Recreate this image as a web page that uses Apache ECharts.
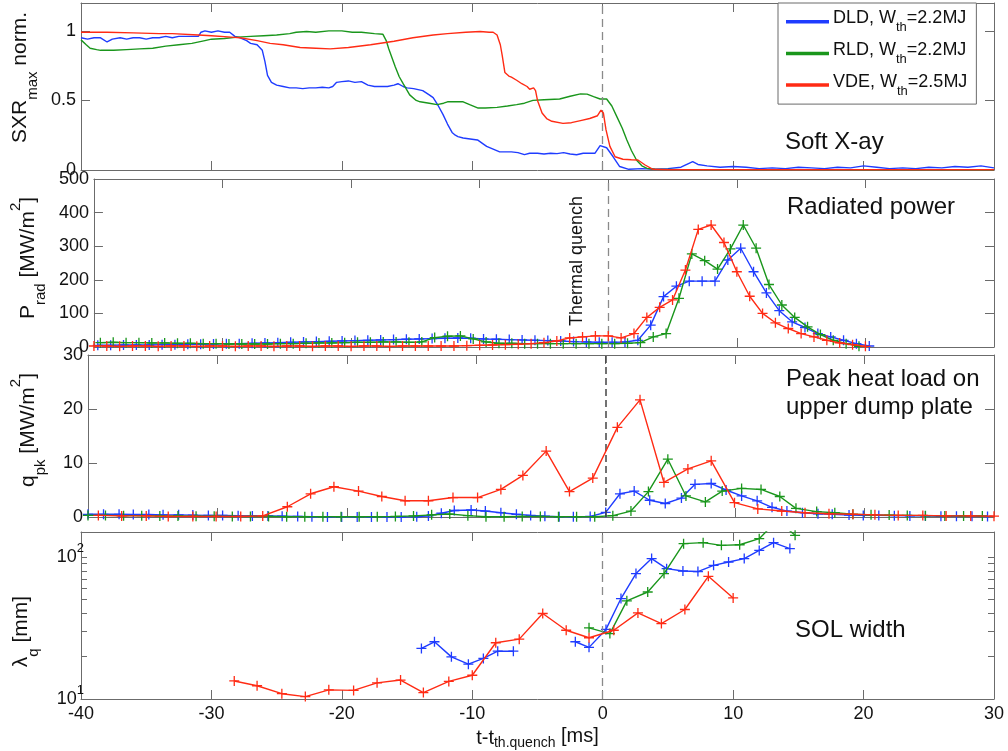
<!DOCTYPE html>
<html>
<head>
<meta charset="utf-8">
<title>Disruption time traces</title>
<script src="https://cdn.jsdelivr.net/npm/echarts@6/dist/echarts.min.js"></script>
<style>
html, body { margin: 0; padding: 0; background: #fff; }
#main { width: 1008px; height: 751px; }
</style>
</head>
<body>
<div id="main"></div>
<script>
// series names / colours / stored energy in the legend
var names = ['DLD', 'RLD', 'VDE'];
var energies = ['2.2', '2.2', '2.5'];
var colors = ['#1f3cff', '#1a961c', '#ff2b14'];

// axis ticks
var xMin = -40, xMax = 30;
var sxrTicks = [0, 0.5, 1];
var logLabels = [10, 100];
var logTicks = [10, 20, 30, 40, 50, 60, 70, 80, 90, 100];

// panel 1: soft X-ray, normalised  [t (ms), value]
var sxrDLD = [[-40,0.95],[-39.5,0.94],[-39,0.95],[-38.5,0.95],[-38,0.92],[-37.6,0.94],[-37,0.95],[-36.5,0.94],[-36,0.95],[-35.5,0.95],[-35,0.94],[-34.5,0.95],[-34,0.95],[-33.5,0.96],[-33,0.95],[-32.5,0.96],[-32,0.96],[-31.5,0.96],[-31,0.96],[-30.8,0.99],[-30.5,1.0],[-30,0.99],[-29.5,1.0],[-29,0.99],[-28.6,0.99],[-28.2,0.96],[-27.8,0.95],[-27.3,0.93],[-27,0.91],[-26.5,0.9],[-26.1,0.86],[-25.9,0.78],[-25.7,0.68],[-25.4,0.63],[-25,0.61],[-24.5,0.6],[-24,0.59],[-23.5,0.59],[-23,0.585],[-22.5,0.59],[-22,0.59],[-21.5,0.595],[-21,0.59],[-20.7,0.6],[-20.4,0.63],[-20,0.635],[-19.5,0.64],[-19,0.63],[-18.5,0.635],[-18,0.61],[-17.5,0.6],[-17,0.6],[-16.5,0.6],[-16,0.61],[-15.7,0.62],[-15.3,0.6],[-15,0.59],[-14.5,0.585],[-13.8,0.57],[-13.3,0.54],[-13,0.52],[-12.6,0.46],[-12.25,0.4],[-11.9,0.33],[-11.55,0.27],[-11.3,0.25],[-11.1,0.24],[-10.7,0.23],[-10.3,0.225],[-9.6,0.216],[-9.2,0.19],[-8.9,0.17],[-8.4,0.15],[-7.9,0.13],[-7,0.13],[-6.5,0.125],[-6,0.11],[-5.6,0.12],[-5,0.12],[-4.5,0.115],[-4,0.12],[-3.5,0.118],[-3,0.125],[-2.5,0.115],[-2,0.11],[-1.5,0.12],[-1,0.12],[-0.6,0.12],[-0.2,0.175],[0.3,0.16],[0.8,0.095],[1.3,0.025],[2,0.005],[3,0.01],[4,0.005],[5,0.01],[6,0.02],[6.9,0.06],[7.3,0.04],[8,0.03],[9,0.02],[10,0.025],[11,0.02],[12,0.01],[13,0.015],[14,0.01],[15,0.02],[16,0.015],[17,0.01],[18,0.02],[19,0.015],[20,0.03],[21,0.02],[22,0.01],[23,0.015],[24,0.01],[25,0.02],[26,0.015],[27,0.025],[28,0.02],[29,0.03],[30,0.015]];
var sxrRLD = [[-40,0.935],[-39.6,0.9],[-39.3,0.875],[-38.8,0.865],[-38.5,0.86],[-37.5,0.86],[-36.5,0.865],[-35.5,0.87],[-34.5,0.875],[-33.5,0.89],[-32.5,0.9],[-31.5,0.91],[-30.5,0.93],[-30,0.94],[-29,0.945],[-28,0.955],[-27,0.96],[-26,0.965],[-25,0.97],[-24,0.98],[-23.5,0.99],[-22.7,0.995],[-22,0.99],[-21,1.0],[-20,1.0],[-19.2,0.99],[-18.5,0.99],[-17.5,0.98],[-16.85,0.975],[-16.6,0.93],[-16.4,0.87],[-15.9,0.74],[-15.6,0.67],[-15.3,0.62],[-14.8,0.54],[-14.3,0.5],[-14,0.49],[-13.3,0.48],[-12.7,0.47],[-12.2,0.48],[-11.9,0.49],[-11.2,0.49],[-10.7,0.49],[-10.2,0.47],[-9.55,0.445],[-9,0.445],[-8.1,0.45],[-7.3,0.46],[-6.6,0.47],[-6,0.48],[-5.35,0.5],[-4.5,0.505],[-3.3,0.51],[-2.5,0.53],[-1.7,0.547],[-1.2,0.545],[-0.7,0.527],[-0.2,0.51],[0.3,0.51],[0.7,0.46],[1.1,0.38],[1.5,0.3],[1.85,0.216],[2.2,0.14],[2.6,0.07],[3,0.03],[3.4,0.012],[4,0.005],[6,0.003],[10,0.002],[15,0.003],[20,0.002],[25,0.002],[30,0.002]];
var sxrVDE = [[-40,0.99],[-38,0.99],[-36,0.985],[-34,0.98],[-33,0.98],[-31,0.97],[-30,0.965],[-28.5,0.955],[-27.8,0.95],[-26.5,0.93],[-25.5,0.91],[-24.5,0.9],[-23.2,0.88],[-22,0.875],[-20.9,0.87],[-19.5,0.88],[-17.8,0.9],[-16,0.925],[-14.55,0.95],[-13,0.97],[-11.9,0.98],[-10.5,0.99],[-9.4,0.995],[-8.7,0.99],[-8.4,0.99],[-8.1,0.97],[-7.85,0.9],[-7.7,0.82],[-7.5,0.7],[-7.2,0.675],[-7,0.667],[-6.6,0.645],[-6.2,0.62],[-5.8,0.6],[-5.6,0.58],[-5.3,0.59],[-5.15,0.57],[-5,0.5],[-4.65,0.41],[-4.3,0.37],[-3.9,0.35],[-3.05,0.335],[-2.4,0.34],[-1.7,0.355],[-1,0.37],[-0.4,0.39],[-0.13,0.43],[0.05,0.41],[0.25,0.29],[0.55,0.17],[0.95,0.095],[1.55,0.077],[2.2,0.074],[2.7,0.072],[3.25,0.036],[3.85,0.005],[5,0.002],[10,0.002],[20,0.002],[30,0.002]];

// panel 2: radiated power [MW/m2]
var pradDLD = [[-39.7,5],[-38.7,5],[-37.7,6],[-36.7,6],[-35.7,6],[-34.7,7],[-33.7,7],[-32.7,8],[-31.7,8],[-30.7,9],[-29.7,10],[-28.7,10],[-27.7,11],[-26.7,12],[-25.7,13],[-24.7,14],[-23.7,15],[-22.7,16],[-21.7,17],[-20.7,18],[-19.7,19],[-18.7,20],[-17.7,21],[-16.7,22],[-15.7,23],[-14.7,24],[-13.7,25],[-12.7,26],[-11.7,27],[-10.7,26],[-9.7,24],[-8.7,23],[-7.7,22],[-6.7,21],[-5.7,20],[-4.7,19],[-3.7,18],[-2.7,16],[-1.7,15],[-0.7,14],[0.3,14],[1.3,15],[2.3,20],[3.3,65],[4.3,150],[5.3,181],[6.3,196],[7.3,196],[8.3,196],[9.3,259],[10.3,294],[11.3,224],[12.3,161],[13.3,108],[14.3,75],[15.3,58],[16.3,40],[17.3,30],[18.3,20],[19.3,10],[20.3,3]];
var pradRLD = [[-39.5,13],[-38.5,14],[-37.5,13],[-36.5,13],[-35.5,12],[-34.5,12],[-33.5,11],[-32.5,11],[-31.5,10],[-30.5,10],[-29.5,9],[-28.5,9],[-27.5,9],[-26.5,9],[-25.5,10],[-24.5,10],[-23.5,11],[-22.5,12],[-21.5,12],[-20.5,13],[-19.5,14],[-18.5,14],[-17.5,15],[-16.5,15],[-15.5,14],[-14.5,15],[-13.5,28],[-12.5,32],[-11.5,33],[-10.5,24],[-9.5,15],[-8.5,11],[-7.5,11],[-6.5,10],[-5.5,10],[-4.5,10],[-3.5,10],[-2.5,10],[-1.5,10],[-0.5,10],[0.5,10],[1.5,11],[2.5,13],[3.5,30],[4.5,40],[5.5,145],[6.5,277],[7.5,257],[8.5,232],[9.5,292],[10.5,363],[11.5,294],[12.5,186],[13.5,125],[14.5,88],[15.5,60],[16.5,37],[17.5,20],[18.5,10],[19.5,2]];
var pradVDE = [[-40,3],[-39,3],[-38,2],[-37,3],[-36,3],[-35,2],[-34,3],[-33,3],[-32,2],[-31,3],[-30,3],[-29,2],[-28,3],[-27,3],[-26,2],[-25,3],[-24,3],[-23,2],[-22,3],[-21,3],[-20,2],[-19,3],[-18,3],[-17,2],[-16,3],[-15,3],[-14,3],[-13,3],[-12,3],[-11,4],[-10,5],[-9,6],[-8,7],[-7,8],[-6,10],[-5,13],[-4,18],[-3,27],[-2,30],[-1,33],[0,33],[1,27],[2,40],[3,88],[4,118],[5,140],[6,229],[7,350],[8,363],[9,311],[10,224],[11,151],[12,100],[13,72],[14,55],[15,40],[16,30],[17,20],[18,12],[19,7],[20,2]];

// panel 3: peak heat load on the upper dump plate [MW/m2]
var qpkDLD = [[-40,0.5],[-38.8,0.5],[-37.6,0.5],[-36.5,0.45],[-35.3,0.45],[-34.2,0.4],[-33,0.4],[-31.9,0.35],[-30.7,0.3],[-29.6,0.3],[-28.4,0.25],[-27.3,0.2],[-26.1,0.2],[-25,0.15],[-23.8,0.1],[-22.7,0.05],[-21.5,0],[-20.4,0],[-19.2,0],[-18.1,0],[-16.9,0],[-15.8,0],[-14.6,0.05],[-13.7,0.2],[-12.7,0.7],[-11.7,1.2],[-10.4,1.3],[-9.3,1.1],[-8.1,0.8],[-6.9,0.5],[-5.8,0.3],[-4.7,0.15],[-3.6,0.05],[-2.5,0.05],[-1.2,0.1],[0,0.85],[1.1,4.3],[2.2,4.8],[3.4,3.1],[4.6,2.5],[5.85,3.5],[6.9,6.05],[8.15,6.2],[9.3,5.0],[10.5,3.9],[11.7,3.0],[12.85,1.8],[14,1.1],[15.2,0.8],[16.4,0.6],[17.5,0.5],[18.8,0.35],[19.9,0.3],[21.1,0.3],[22.3,0.25],[23.5,0.2],[24.7,0.2],[25.9,0.15],[27.1,0.15],[28.3,0.15],[29.5,0.1]];
var qpkRLD = [[-40,0.3],[-38.65,0.3],[-37.25,0.25],[-35.85,0.25],[-34.45,0.2],[-33.05,0.2],[-31.65,0.15],[-30.25,0.15],[-28.85,0.1],[-27.45,0.1],[-26.05,0.1],[-24.65,0.05],[-23.25,0.05],[-21.85,0.05],[-20.45,0.05],[-19.05,0.05],[-17.65,0.05],[-16.25,0.1],[-14.85,0.2],[-13.45,0.4],[-12.05,0.55],[-10.65,0.25],[-9.25,0.05],[-7.85,0.05],[-6.45,0.1],[-5.05,0.1],[-3.65,0.05],[-2.25,0.05],[-0.85,0.05],[0.55,0.25],[1.95,1.1],[3.3,4.7],[4.8,10.7],[6.2,3.9],[7.7,2.8],[9,4.8],[10.5,5.3],[12,5.1],[13.45,3.8],[14.7,1.6],[16.3,1.0],[17.7,0.8],[19.1,0.5],[20.5,0.4],[21.9,0.35],[23.3,0.3],[24.7,0.25],[26.2,0.2],[27.65,0.2],[29.1,0.2]];
var qpkVDE = [[-39.2,0.3],[-37.4,0.2],[-35.5,0.2],[-33.8,0.1],[-31.9,0.1],[-30.1,0.1],[-28.2,0.1],[-26.5,0.2],[-24.6,1.9],[-22.8,4.3],[-21,5.6],[-19.1,4.8],[-17.3,3.8],[-15.5,3.0],[-13.7,3.0],[-11.8,3.6],[-9.9,3.6],[-8.1,5.1],[-6.4,7.7],[-4.6,12.2],[-2.8,4.7],[-1,7.2],[0.9,16.6],[2.65,21.7],[4.5,6.4],[6.35,8.9],[8.15,10.4],[9.95,2.65],[11.75,1.5],[13.6,1.1],[15.4,0.8],[17.25,0.6],[19.1,0.5],[20.8,0.4],[22.6,0.3],[24.5,0.3],[26.3,0.2],[28.2,0.2],[30,0.15]];

// panel 4: SOL width [mm], log axis (null = gap in the trace)
var lamDLD = [[-13.9,22.7],[-12.9,25.3],[-11.6,19.8],[-10.3,17.6],[-9.15,19.3],[-8.05,21.7],[-6.85,21.7],[-4.5,null],[-2.1,25.3],[-1.05,23.1],[0.25,30.9],[1.4,51],[2.55,76.4],[3.75,97.5],[4.9,82.8],[6.15,79.7],[7.3,79],[8.5,87.4],[9.65,92.2],[10.85,97.5],[12,111.3],[13.1,126.2],[14.35,114.6]];
var lamRLD = [[-1.05,31.7],[0.55,28.9],[1.85,49.1],[3.45,56.7],[4.7,76.4],[6.2,124.2],[7.7,126.2],[9.1,120.8],[10.5,122],[12,134.7],[13.4,182],[14.75,142.1]];
var lamVDE = [[-28.25,13.4],[-26.5,12.4],[-24.6,10.9],[-22.8,10.4],[-21,11.6],[-19.1,11.5],[-17.3,13.0],[-15.5,13.6],[-13.75,11.1],[-11.8,13.3],[-10,14.7],[-8.2,24.9],[-6.4,26.4],[-4.6,40],[-2.8,30.5],[-1.05,27],[0.85,30.5],[2.7,40.4],[4.5,34],[6.3,42.7],[8.1,73.1],[10,51.5]];

var panels = [
    [sxrDLD, sxrRLD, sxrVDE],
    [pradDLD, pradRLD, pradVDE],
    [qpkDLD, qpkRLD, qpkVDE],
    [lamDLD, lamRLD, lamVDE]
];

var font = '"Liberation Sans", Arial, Helvetica, sans-serif';
var ink = '#111';
var frame = '#6b6b6b';
var plus = 'path://M0,5L10,5M5,0L5,10';

var grids = [
    {left: 81, right: 14, top: 3, height: 167},
    {left: 81, right: 14, top: 179, height: 168},
    {left: 81, right: 14, top: 355, height: 162},
    {left: 81, right: 14, top: 532, height: 167}
];

// rich styles for sub/superscripts in rotated axis names
var nameRich = {
    a: {fontSize: 21, lineHeight: 40, fontFamily: font, color: ink},
    s: {fontSize: 15, lineHeight: 17, verticalAlign: 'bottom', fontFamily: font, color: ink},
    p: {fontSize: 15, lineHeight: 25, verticalAlign: 'top', fontFamily: font, color: ink}
};
var yNames = [
    '{a|SXR}{s|max}{a| norm.}',
    '{a|P}{s|rad}{a| [MW/m}{p|2}{a|]}',
    '{a|q}{s|pk}{a| [MW/m}{p|2}{a|]}',
    '{a|\u03bb}{s|q}{a| [mm]}'
];
var yNamePad = [[0, 0, 0, 18], [0, 0, 0, 10], [0, 0, 0, 12], [0, 32, 0, 0]];

var xAxes = [], yAxes = [];
for (var i = 0; i < 4; i++) {
    [false, true].forEach(function (top) {
        var last = (i === 3 && !top);
        xAxes.push({
            type: 'value', gridIndex: i, position: top ? 'top' : 'bottom',
            min: xMin, max: xMax, interval: 10,
            axisLine: {show: true, onZero: false, lineStyle: {color: frame, width: 1}},
            axisTick: {show: true, inside: true, length: 9, lineStyle: {color: frame}},
            axisLabel: {show: last, margin: 6, fontSize: 18, color: ink, fontFamily: font},
            splitLine: {show: false},
            name: last ? '{a|t-t}{s|th.quench}{m| [ms]}' : '',
            nameLocation: 'middle', nameGap: 27,
            nameTextStyle: {
                rich: {
                    a: {fontSize: 20, lineHeight: 24, fontFamily: font, color: ink},
                    s: {fontSize: 14, lineHeight: 16, verticalAlign: 'bottom', fontFamily: font, color: ink},
                    m: {fontSize: 20, lineHeight: 6, verticalAlign: 'top', fontFamily: font, color: ink}
                }
            }
        });
    });
}
for (var j = 0; j < 4; j++) {
    [false, true].forEach(function (right) {
        var ax = {
            type: 'value', gridIndex: j, position: right ? 'right' : 'left',
            axisLine: {show: true, onZero: false, lineStyle: {color: frame, width: 1}},
            axisTick: {show: true, inside: true, length: 9, lineStyle: {color: frame}},
            axisLabel: {show: !right, margin: 5, fontSize: 18, color: ink, fontFamily: font},
            splitLine: {show: false}
        };
        if (j === 0) {
            ax.min = 0; ax.max = 1.2;
            ax.axisLabel.customValues = sxrTicks;
            ax.axisTick.customValues = sxrTicks;
        } else if (j === 1) {
            ax.min = 0; ax.max = 500; ax.interval = 100;
        } else if (j === 2) {
            ax.min = 0; ax.max = 30; ax.interval = 10;
        } else {
            ax.type = 'log'; ax.logBase = 10; ax.min = 10; ax.max = 150;
            ax.axisLabel.customValues = logLabels;
            ax.axisTick.customValues = logTicks;
            ax.axisTick.length = 6;
            ax.axisLabel.margin = -3;
            ax.axisLabel.formatter = function (v) {
                return '{b|10}{p|' + Math.round(Math.log(v) / Math.LN10) + '}';
            };
            ax.axisLabel.rich = {
                b: {fontSize: 18, lineHeight: 30, fontFamily: font, color: ink},
                p: {fontSize: 13, lineHeight: 15, verticalAlign: 'top', fontFamily: font, color: ink}
            };
        }
        if (!right) {
            ax.name = yNames[j];
            ax.nameLocation = 'middle';
            ax.nameRotate = 90;
            ax.nameGap = 40;
            ax.nameTextStyle = {rich: nameRich, padding: yNamePad[j]};
        }
        yAxes.push(ax);
    });
}

var series = [];
panels.forEach(function (sets, p) {
    sets.forEach(function (data, k) {
        var s = {
            type: 'line', name: names[k],
            xAxisIndex: p * 2, yAxisIndex: p * 2,
            data: data,
            symbol: p === 0 ? 'none' : plus,
            symbolSize: 10,
            showAllSymbol: true,
            connectNulls: false,
            lineStyle: {color: colors[k], width: 1.4},
            itemStyle: {color: colors[k], borderColor: colors[k], borderWidth: 1.3},
            emphasis: {disabled: true},
            z: 3 + k
        };
        if (k === 0) {
            s.markLine = {
                silent: true, symbol: 'none', label: {show: false},
                lineStyle: p === 2 ? {color: '#444', type: [7, 4], width: 1.5}
                                   : {color: '#8a8a8a', type: [8, 5], width: 1.3},
                data: [{xAxis: 0}]
            };
        }
        series.push(s);
    });
});

var titleFont = {fontSize: 24, fontFamily: font, fill: ink, verticalAlign: 'middle'};
function label(text, x, y) {
    return {type: 'text', x: x, y: y, z: 10, style: Object.assign({text: text}, titleFont)};
}

var chart = echarts.init(document.getElementById('main'));
chart.setOption({
    animation: false,
    backgroundColor: '#fff',
    grid: grids,
    xAxis: xAxes,
    yAxis: yAxes,
    legend: {
        data: names, orient: 'vertical', left: 778, top: 3,
        selectedMode: false,
        icon: 'rect', itemWidth: 41, itemHeight: 1.5, itemGap: 2.3,
        padding: [6.3, 9, 2, 8],
        backgroundColor: '#fff', borderColor: frame, borderWidth: 1,
        formatter: function (name) {
            var e = energies[names.indexOf(name)];
            return '{a|' + name + ', W}{s|th}{a|=' + e + 'MJ}';
        },
        textStyle: {
            rich: {
                a: {fontSize: 18, lineHeight: 18, verticalAlign: 'top', padding: [0, 0, 11.4, 0], fontFamily: font, color: ink},
                s: {fontSize: 13, lineHeight: 24.8, verticalAlign: 'bottom', fontFamily: font, color: ink}
            }
        }
    },
    graphic: [
        label('Soft X-ay', 785, 142),
        label('Radiated power', 787, 207),
        label('Peak heat load on', 786, 379),
        label('upper dump plate', 786, 407),
        label('SOL width', 795, 630),
        {
            type: 'text', x: 577, y: 261, rotation: Math.PI / 2, z: 10,
            style: {text: 'Thermal quench', fontSize: 18, fontFamily: font, fill: ink, align: 'center', verticalAlign: 'middle'}
        }
    ],
    series: series
});
</script>
</body>
</html>
